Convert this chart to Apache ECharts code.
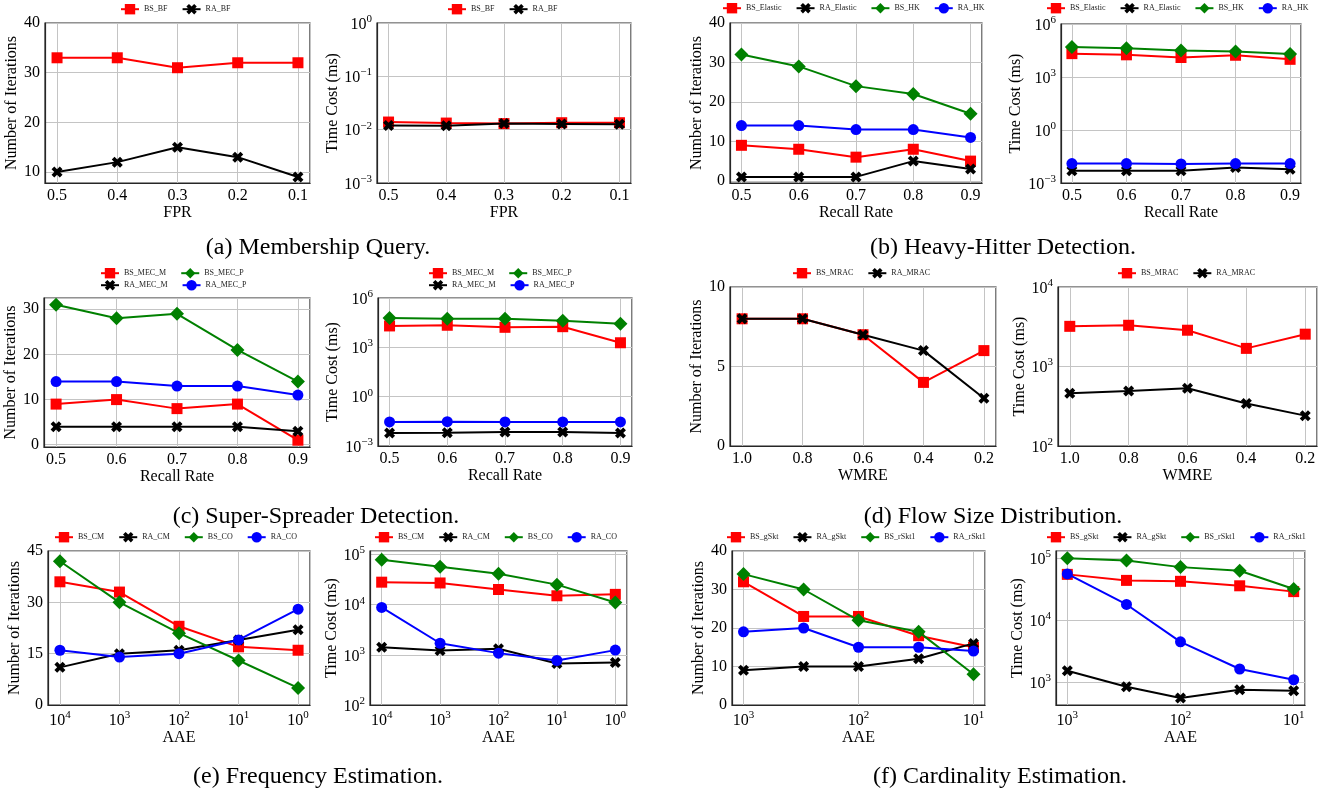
<!DOCTYPE html>
<html lang="en">
<head>
<meta charset="utf-8">
<title>Iterations and time cost</title>
<script src="https://cdn.jsdelivr.net/npm/echarts@6/dist/echarts.min.js"></script>
<style>
  html, body { margin: 0; padding: 0; background: #fff; }
  #chart { width: 1335px; height: 793px; }
</style>
</head>
<body>
<div id="chart"></div>
<script>
// x values
var FPR = [0.5, 0.4, 0.3, 0.2, 0.1];
var RECALL = [0.5, 0.6, 0.7, 0.8, 0.9];
var WMRE = [1.0, 0.8, 0.6, 0.4, 0.2];
var AAE_FREQ = [10000, 1000, 100, 10, 1];
var AAE_CARD = [1000, 300, 100, 30, 10];

// (a) membership query
var BS_BF_ITER = [33, 33, 31, 32, 32];
var RA_BF_ITER = [10, 12, 15, 13, 9];
var BS_BF_TIME = [0.0139, 0.0133, 0.0130, 0.0135, 0.0135];
var RA_BF_TIME = [0.0120, 0.0119, 0.0130, 0.0128, 0.0126];

// (b) heavy hitter detection
var BS_ELASTIC_ITER = [9, 8, 6, 8, 5];
var RA_ELASTIC_ITER = [1, 1, 1, 5, 3];
var BS_HK_ITER = [32, 29, 24, 22, 17];
var RA_HK_ITER = [14, 14, 13, 13, 11];
var BS_ELASTIC_TIME = [21000, 18000, 12700, 17000, 10000];
var RA_ELASTIC_TIME = [0.0050, 0.0050, 0.0050, 0.0075, 0.0060];
var BS_HK_TIME = [50000, 42000, 32000, 28000, 20000];
var RA_HK_TIME = [0.0125, 0.0125, 0.0120, 0.0125, 0.0125];

// (c) super-spreader detection
var BS_MEC_M_ITER = [9, 10, 8, 9, 1];
var RA_MEC_M_ITER = [4, 4, 4, 4, 3];
var BS_MEC_P_ITER = [31, 28, 29, 21, 14];
var RA_MEC_P_ITER = [14, 14, 13, 13, 11];
var BS_MEC_M_TIME = [20000, 22000, 16500, 18000, 1900];
var RA_MEC_M_TIME = [0.0062, 0.0065, 0.0070, 0.0070, 0.0062];
var BS_MEC_P_TIME = [60000, 55000, 55000, 42000, 27500];
var RA_MEC_P_TIME = [0.029, 0.030, 0.029, 0.029, 0.029];

// (d) flow size distribution
var BS_MRAC_ITER = [8, 8, 7, 4, 6];
var RA_MRAC_ITER = [8, 8, 7, 6, 3];
var BS_MRAC_TIME = [3200, 3300, 2860, 1690, 2550];
var RA_MRAC_TIME = [461, 493, 533, 342, 241];

// (e) frequency estimation
var BS_CM_ITER = [36, 33, 23, 17, 16];
var RA_CM_ITER = [11, 15, 16, 19, 22];
var BS_CO_ITER = [42, 30, 21, 13, 5];
var RA_CO_ITER = [16, 14, 15, 19, 28];
var BS_CM_TIME = [28000, 27000, 20000, 15000, 16000];
var RA_CM_TIME = [1420, 1220, 1320, 670, 700];
var BS_CO_TIME = [78000, 57000, 41000, 25000, 11000];
var RA_CO_TIME = [8800, 1700, 1080, 770, 1240];

// (f) cardinality estimation
var BS_GSKT_ITER = [32, 23, 23, 18, 15];
var RA_GSKT_ITER = [9, 10, 10, 12, 16];
var BS_RSKT1_ITER = [34, 30, 22, 19, 8];
var RA_RSKT1_ITER = [19, 20, 15, 15, 14];
var BS_GSKT_TIME = [55000, 44000, 42500, 36000, 29000];
var RA_GSKT_TIME = [1540, 850, 560, 760, 734];
var BS_RSKT1_TIME = [100000, 92000, 72000, 63000, 32000];
var RA_RSKT1_TIME = [56000, 18000, 4500, 1640, 1100];

var CAPTIONS = [
    ['(a) Membership Query.', 318, 248],
    ['(b) Heavy-Hitter Detection.', 1003, 248],
    ['(c) Super-Spreader Detection.', 316, 517],
    ['(d) Flow Size Distribution.', 993, 517],
    ['(e) Frequency Estimation.', 318, 777],
    ['(f) Cardinality Estimation.', 1000, 777]
];

var FONT = 'Liberation Serif';
var ITER = 'Number of Iterations';
var TIME = 'Time Cost (ms)';
var XMARK = 'path://M0,2.5 L2.5,0 L5,2.5 L7.5,0 L10,2.5 L7.5,5 L10,7.5 L7.5,10 L5,7.5 L2.5,10 L0,7.5 L2.5,5 Z';

// red square, black cross, green diamond, blue circle
var STYLES = [
    { color: '#ff0000', symbol: 'rect', size: 11 },
    { color: '#000000', symbol: XMARK, size: 11 },
    { color: '#008000', symbol: 'diamond', size: 14 },
    { color: '#0000ff', symbol: 'circle', size: 11 }
];

var RICH = {
    b: { fontSize: 16, fontFamily: FONT, color: '#000', verticalAlign: 'bottom' },
    s: { fontSize: 11, fontFamily: FONT, color: '#000', verticalAlign: 'bottom', padding: [0, 0, 8, 0] }
};

function powLabel(v) {
    var e = Math.log10(v), r = Math.round(e);
    if (Math.abs(e - r) > 1e-6) return '';
    return '{b|10}{s|' + (r < 0 ? '\u2212' + (-r) : r) + '}';
}

function linAxis(min, max, step, inverse, digits) {
    var ax = {
        type: 'value', min: min, max: max, inverse: !!inverse,
        splitNumber: Math.round((max - min) / step),
        axisLabel: {
            formatter: function (v) {
                var k = Math.round(v / step);
                return Math.abs(v - k * step) < step * 1e-6 ? (k * step).toFixed(digits) : '';
            }
        }
    };
    if (Math.abs(min / step - Math.round(min / step)) < 1e-9) ax.interval = step;
    return ax;
}

function logAxis(min, max, base, inverse) {
    return {
        type: 'log', logBase: base, min: min, max: max, inverse: !!inverse,
        axisLabel: { formatter: powLabel, rich: RICH }
    };
}

var xFpr = function () { return linAxis(0.08, 0.52, 0.1, true, 1); };
var xRecall = function () { return linAxis(0.48, 0.92, 0.1, false, 1); };
var xWmre = function () { return linAxis(0.16, 1.04, 0.2, true, 1); };
var xFreq = function () { return logAxis(Math.pow(10, -0.2), Math.pow(10, 4.2), 10, true); };
var xCard = function () { return logAxis(Math.pow(10, 0.9), Math.pow(10, 3.1), 10, true); };

var PANELS = [
    { box: [45, 23, 265, 160], xs: FPR, x: xFpr(), xName: 'FPR', y: linAxis(7.8, 40, 10, false, 0), yName: ITER, yGap: 24,
      legends: [[120, 4, ['BS_BF', 'RA_BF']]],
      series: [['BS_BF', BS_BF_ITER, 0], ['RA_BF', RA_BF_ITER, 1]] },
    { box: [377, 23, 254, 160], xs: FPR, x: xFpr(), xName: 'FPR', y: logAxis(0.001, 1, 10), yName: TIME, yGap: 36,
      legends: [[447, 4, ['BS_BF', 'RA_BF']]],
      series: [['BS_BF', BS_BF_TIME, 0], ['RA_BF', RA_BF_TIME, 1]] },
    { box: [730, 23, 252, 160], xs: RECALL, x: xRecall(), xName: 'Recall Rate', y: linAxis(-0.55, 40, 10, false, 0), yName: ITER, yGap: 23,
      legends: [[722, 3, ['BS_Elastic', 'RA_Elastic', 'BS_HK', 'RA_HK']]],
      series: [['BS_Elastic', BS_ELASTIC_ITER, 0], ['RA_Elastic', RA_ELASTIC_ITER, 1], ['BS_HK', BS_HK_ITER, 2], ['RA_HK', RA_HK_ITER, 3]] },
    { box: [1061, 24, 240, 159], xs: RECALL, x: xRecall(), xName: 'Recall Rate', y: logAxis(0.001, 1e6, 1000), yName: TIME, yGap: 37,
      legends: [[1046, 3, ['BS_Elastic', 'RA_Elastic', 'BS_HK', 'RA_HK']]],
      series: [['BS_Elastic', BS_ELASTIC_TIME, 0], ['RA_Elastic', RA_ELASTIC_TIME, 1], ['BS_HK', BS_HK_TIME, 2], ['RA_HK', RA_HK_TIME, 3]] },
    { box: [44, 298, 266, 149], xs: RECALL, x: xRecall(), xName: 'Recall Rate', y: linAxis(-0.5, 32.5, 10, false, 0), yName: ITER, yGap: 24,
      legends: [[100, 268, ['BS_MEC_M', 'BS_MEC_P']], [100, 280, ['RA_MEC_M', 'RA_MEC_P']]],
      series: [['BS_MEC_M', BS_MEC_M_ITER, 0], ['RA_MEC_M', RA_MEC_M_ITER, 1], ['BS_MEC_P', BS_MEC_P_ITER, 2], ['RA_MEC_P', RA_MEC_P_ITER, 3]] },
    { box: [378, 298, 254, 148], xs: RECALL, x: xRecall(), xName: 'Recall Rate', y: logAxis(0.001, 1e6, 1000), yName: TIME, yGap: 37,
      legends: [[428, 268, ['BS_MEC_M', 'BS_MEC_P']], [428, 280, ['RA_MEC_M', 'RA_MEC_P']]],
      series: [['BS_MEC_M', BS_MEC_M_TIME, 0], ['RA_MEC_M', RA_MEC_M_TIME, 1], ['BS_MEC_P', BS_MEC_P_TIME, 2], ['RA_MEC_P', RA_MEC_P_TIME, 3]] },
    { box: [730, 287, 266, 159], xs: WMRE, x: xWmre(), xName: 'WMRE', y: linAxis(0, 10, 5, false, 0), yName: ITER, yGap: 23,
      legends: [[792, 268, ['BS_MRAC', 'RA_MRAC']]],
      series: [['BS_MRAC', BS_MRAC_ITER, 0], ['RA_MRAC', RA_MRAC_ITER, 1]] },
    { box: [1058, 287, 259, 159], xs: WMRE, x: xWmre(), xName: 'WMRE', y: logAxis(100, 10000, 10), yName: TIME, yGap: 29,
      legends: [[1117, 268, ['BS_MRAC', 'RA_MRAC']]],
      series: [['BS_MRAC', BS_MRAC_TIME, 0], ['RA_MRAC', RA_MRAC_TIME, 1]] },
    { box: [48, 551, 262, 154], xs: AAE_FREQ, x: xFreq(), xName: 'AAE', y: linAxis(0, 45, 15, false, 0), yName: ITER, yGap: 23,
      legends: [[54, 532, ['BS_CM', 'RA_CM', 'BS_CO', 'RA_CO']]],
      series: [['BS_CM', BS_CM_ITER, 0], ['RA_CM', RA_CM_ITER, 1], ['BS_CO', BS_CO_ITER, 2], ['RA_CO', RA_CO_ITER, 3]] },
    { box: [370, 551, 257, 154], xs: AAE_FREQ, x: xFreq(), xName: 'AAE', y: logAxis(100, 117000, 10), yName: TIME, yGap: 29,
      legends: [[374, 532, ['BS_CM', 'RA_CM', 'BS_CO', 'RA_CO']]],
      series: [['BS_CM', BS_CM_TIME, 0], ['RA_CM', RA_CM_TIME, 1], ['BS_CO', BS_CO_TIME, 2], ['RA_CO', RA_CO_TIME, 3]] },
    { box: [732, 551, 253, 154], xs: AAE_CARD, x: xCard(), xName: 'AAE', y: linAxis(0, 40, 10, false, 0), yName: ITER, yGap: 22,
      legends: [[726, 532, ['BS_gSkt', 'RA_gSkt', 'BS_rSkt1', 'RA_rSkt1']]],
      series: [['BS_gSkt', BS_GSKT_ITER, 0], ['RA_gSkt', RA_GSKT_ITER, 1], ['BS_rSkt1', BS_RSKT1_ITER, 2], ['RA_rSkt1', RA_RSKT1_ITER, 3]] },
    { box: [1056, 551, 249, 154], xs: AAE_CARD, x: xCard(), xName: 'AAE', y: logAxis(431, 131000, 10), yName: TIME, yGap: 29,
      legends: [[1046, 532, ['BS_gSkt', 'RA_gSkt', 'BS_rSkt1', 'RA_rSkt1']]],
      series: [['BS_gSkt', BS_GSKT_TIME, 0], ['RA_gSkt', RA_GSKT_TIME, 1], ['BS_rSkt1', BS_RSKT1_TIME, 2], ['RA_rSkt1', RA_RSKT1_TIME, 3]] }
];

function dressAxis(ax, i, name, gap) {
    ax.gridIndex = i;
    ax.name = name;
    ax.nameLocation = 'middle';
    ax.nameGap = gap;
    ax.nameTextStyle = { fontFamily: FONT, fontSize: 16, color: '#000' };
    ax.axisLine = { show: true, onZero: false, lineStyle: { color: '#262626', width: 1.2 } };
    ax.axisTick = { show: false };
    ax.splitLine = { show: true, lineStyle: { color: '#c4c4c4', width: 1 } };
    ax.axisLabel.color = '#000';
    ax.axisLabel.fontFamily = FONT;
    ax.axisLabel.fontSize = 16;
    ax.axisLabel.margin = 5;
    ax.axisLabel.showMinLabel = true;
    ax.axisLabel.showMaxLabel = true;
    return ax;
}

var grids = [], xAxes = [], yAxes = [], series = [], legends = [];

PANELS.forEach(function (p, i) {
    grids.push({ left: p.box[0], top: p.box[1], width: p.box[2], height: p.box[3],
                 show: true, borderColor: '#262626', borderWidth: 1.2 });
    xAxes.push(dressAxis(p.x, i, p.xName, 19));
    yAxes.push(dressAxis(p.y, i, p.yName, p.yGap));
    p.series.forEach(function (s) {
        var st = STYLES[s[2]];
        series.push({
            name: s[0], type: 'line', xAxisIndex: i, yAxisIndex: i,
            data: p.xs.map(function (x, k) { return [x, s[1][k]]; }),
            symbol: st.symbol, symbolSize: st.size,
            lineStyle: { color: st.color, width: 2 },
            itemStyle: { color: st.color },
            z: 2 + s[2]
        });
    });
    p.legends.forEach(function (l) {
        legends.push({
            left: l[0], top: l[1], data: l[2], padding: 0,
            itemWidth: 18, itemHeight: 13, itemGap: 14,
            textStyle: { fontFamily: FONT, fontSize: 8, color: '#222' }
        });
    });
});

var myChart = echarts.init(document.getElementById('chart'));

option = {
    animation: false,
    backgroundColor: '#fff',
    textStyle: { fontFamily: FONT },
    grid: grids,
    xAxis: xAxes,
    yAxis: yAxes,
    legend: legends,
    series: series,
    graphic: CAPTIONS.map(function (c) {
        return { type: 'text', x: c[1], y: c[2],
                 style: { text: c[0], fontFamily: FONT, fontSize: 24, fill: '#000',
                          align: 'center', verticalAlign: 'middle' } };
    })
};

myChart.setOption(option);
</script>
</body>
</html>
